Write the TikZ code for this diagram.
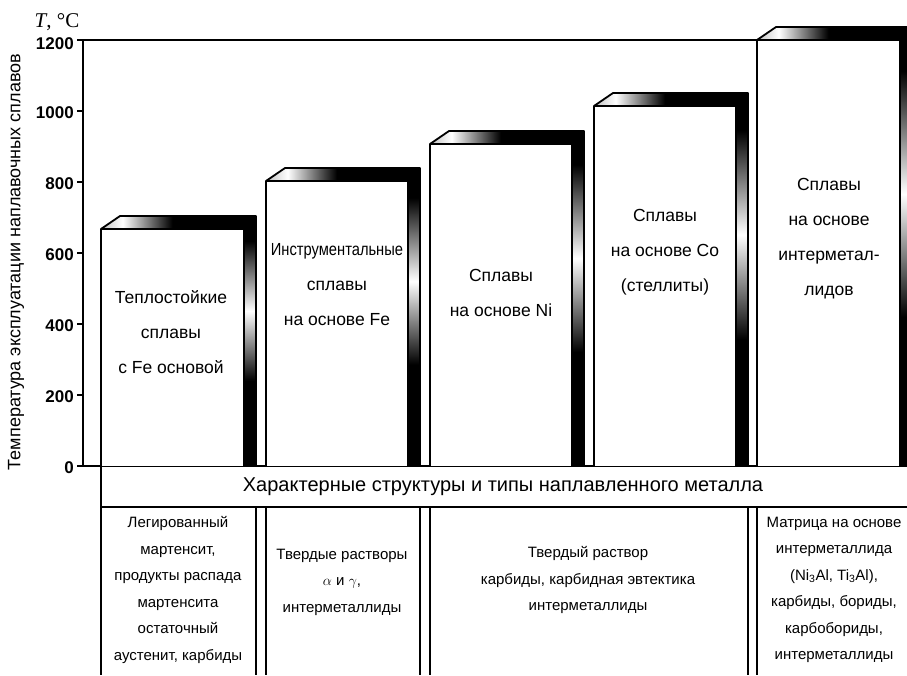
\documentclass[tikz,border=0pt]{standalone}
\usepackage{fontspec}
\setmainfont{Liberation Sans}
\newfontfamily\timesfont{Liberation Serif}
\usetikzlibrary{positioning}
\pgfdeclarehorizontalshading{barlid}{100bp}{color(0bp)=(gray!60); color(25bp)=(gray!50); color(32bp)=(white); color(48bp)=(black); color(100bp)=(black)}
\pgfdeclareverticalshading{barside}{100bp}{color(0bp)=(black); color(42bp)=(black); color(56bp)=(white); color(70bp)=(black); color(100bp)=(black)}
% one bar: name, left, right, top
\newcommand{\alloybar}[4]{%
  \coordinate (#1-fl) at (#2,#4);
  \coordinate (#1-fr) at (#3,#4);
  \coordinate (#1-bl) at (#2+19,#4-13);
  \coordinate (#1-br) at (#3+12,#4-13);
  \coordinate (#1-sb) at (#3+12,466);
  \coordinate (#1-b) at (#3,466);
  \fill[white] (#1-fl) rectangle (#1-b);
  \shade[shading=barlid] (#1-fl) -- (#1-bl) -- (#1-br) -- (#1-fr) -- cycle;
  \shade[shading=barside] (#1-fr) -- (#1-br) -- (#1-sb) -- (#1-b) -- cycle;
  \draw[bar edge] (#2,466) -- (#1-fl) -- (#1-bl) -- (#1-br) -- (#1-sb);
  \draw[bar edge] (#1-fl) -- (#1-fr) -- (#1-b);
  \draw[bar edge] (#1-fr) -- (#1-br);
}

\begin{document}
\begin{tikzpicture}[x=1pt, y=-1pt,
    bar edge/.style={line width=1.8pt, line join=round},
    frame line/.style={line width=1.7pt},
    bar text/.style={font=\fontsize{17.5}{35}\selectfont, align=center},
    cell text/.style={font=\fontsize{15}{26.5}\selectfont, align=center},
    tick label/.style={font=\fontsize{17}{17}\selectfont\bfseries, anchor=east, inner sep=0pt}]
  \useasboundingbox (0,0) rectangle (907,675);
  \clip (0,0) rectangle (907,675);

  % Define frame
  \coordinate (o) at (83,466);
  \coordinate (ytop) at (83,40);
  \coordinate (ftop) at (907,40);
  \coordinate (xend) at (907,466);
  \draw[frame line] (ftop) -- (ytop) -- (o) -- (xend);
  \draw[frame line] (o) -- ++(-6,0);
  \draw[frame line] (83,395) -- ++(-6,0);
  \draw[frame line] (83,324) -- ++(-6,0);
  \draw[frame line] (83,253) -- ++(-6,0);
  \draw[frame line] (83,182) -- ++(-6,0);
  \draw[frame line] (83,111) -- ++(-6,0);
  \draw[frame line] (ytop) -- ++(-6,0);
  \node[tick label] (t0) at (74,468) {0};
  \node[tick label] (t200) at (74,397) {200};
  \node[tick label] (t400) at (74,326) {400};
  \node[tick label] (t600) at (74,255) {600};
  \node[tick label] (t800) at (74,184) {800};
  \node[tick label] (t1000) at (74,113) {1000};
  \node[tick label] (t1200) at (74,44) {1200};
  \node[font=\fontsize{21}{21}\timesfont] (unit) at (57,22) {\textit{T}, °C};
  \node[rotate=90, font=\fontsize{18}{18}\selectfont] (ylab) at (16,262)
    {Температура эксплуатации наплавочных сплавов};

  % Define bars
  \alloybar{fe}{101}{244}{229}
  \alloybar{tool}{266}{408}{181}
  \alloybar{ni}{430}{572}{144}
  \alloybar{co}{594}{736}{106}
  \alloybar{im}{757}{900}{40}

  \node[bar text] (fetext) at (171,332) {Теплостойкие\\сплавы\\с Fe основой};
  \node[bar text] (tooltext) at (337,285)
    {\scalebox{0.84}[1]{Инструментальные}\\сплавы\\на основе Fe};
  \node[bar text] (nitext) at (501,293) {Сплавы\\на основе Ni};
  \node[bar text] (cotext) at (665,252) {Сплавы\\на основе Co\\(стеллиты)};
  \node[bar text] (imtext) at (829,239) {Сплавы\\на основе\\интерметал-\\лидов};

  % Define table
  \coordinate (hl) at (101,507);
  \coordinate (hr) at (907,507);
  \draw[frame line] (101,466) -- (101,675);
  \draw[frame line] (hl) -- (hr);
  \draw[frame line] (fe-sb |- hl) -- (256,675);
  \draw[frame line] (tool-fl |- hl) -- (266,675);
  \draw[frame line] (tool-sb |- hl) -- (420,675);
  \draw[frame line] (ni-fl |- hl) -- (430,675);
  \draw[frame line] (co-sb |- hl) -- (748,675);
  \draw[frame line] (im-fl |- hl) -- (757,675);
  \node[font=\fontsize{20}{20}\selectfont] (head) at (503,487)
    {Характерные структуры и типы наплавленного металла};

  \node[cell text] (c1) at (178,590)
    {Легированный\\мартенсит,\\продукты распада\\мартенсита\\остаточный\\аустенит, карбиды};
  \node[cell text] (c2) at (342,582)
    {Твердые растворы\\$\alpha$ и $\gamma$,\\интерметаллиды};
  \node[cell text] (c3) at (588,580)
    {Твердый раствор\\карбиды, карбидная эвтектика\\интерметаллиды};
  \node[cell text] (c4) at (834,590)
    {Матрица на основе\\интерметаллида\\(Ni\textsubscript{3}Al, Ti\textsubscript{3}Al),\\карбиды, бориды,\\карбобориды,\\интерметаллиды};
\end{tikzpicture}
\end{document}
